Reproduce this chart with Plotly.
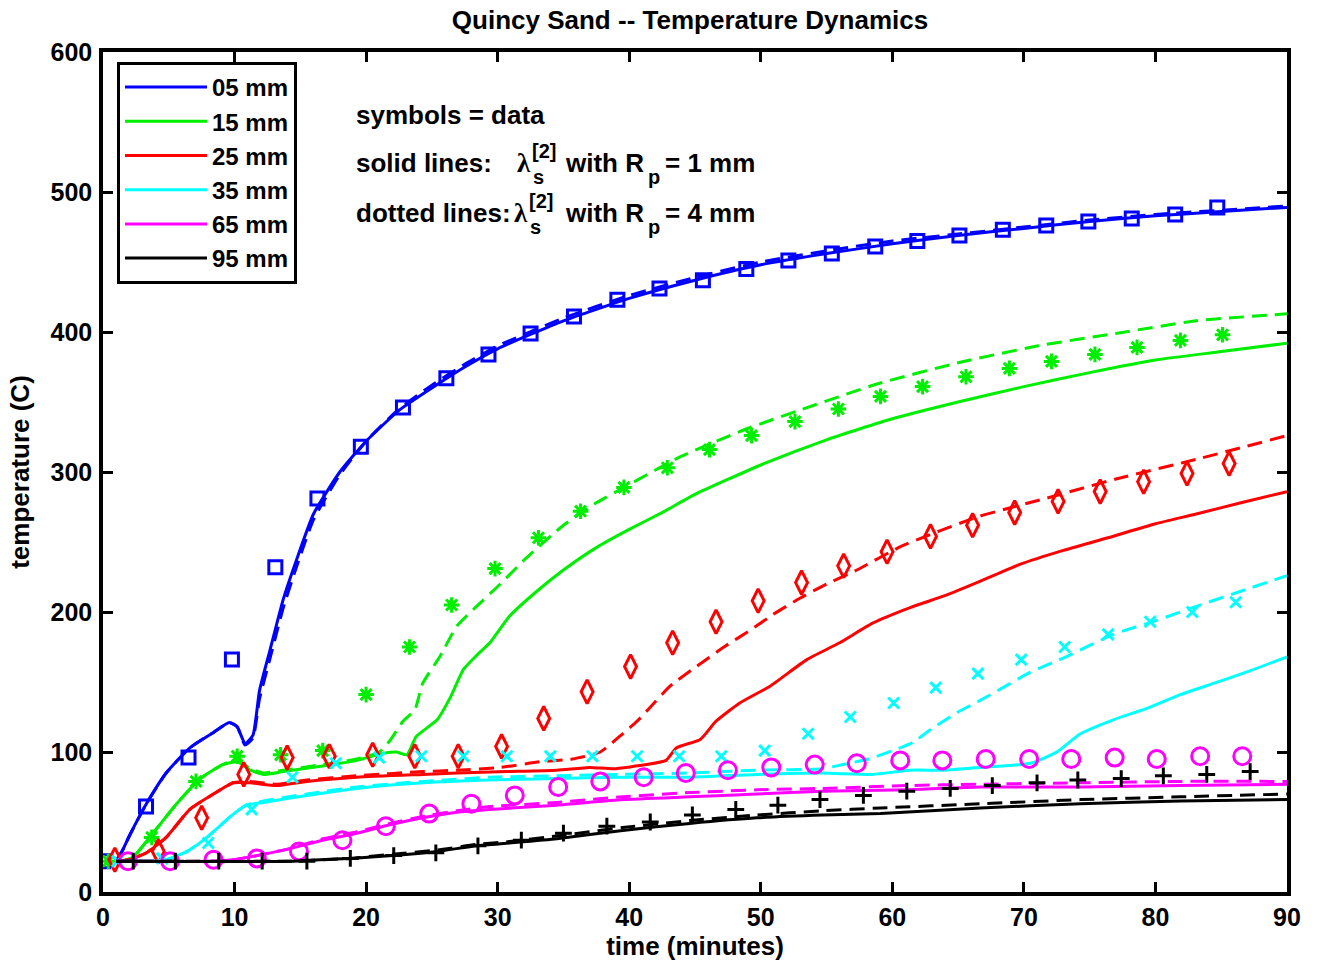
import plotly.graph_objects as go

# ---------------------------------------------------------------------------
# Measured temperatures (symbols)
# ---------------------------------------------------------------------------
t_05 = [0, 3.27, 6.5, 9.8, 13.1, 16.3, 19.6, 22.8, 26.1, 29.3, 32.5, 35.8, 39.1, 42.3,
        45.6, 48.9, 52.1, 55.4, 58.7, 61.9, 65.1, 68.4, 71.7, 74.9, 78.2, 81.5, 84.7]
T_05 = [22, 61, 96, 166, 232, 281, 318, 346, 367, 384, 399, 411, 423, 431,
        437, 445, 451, 456, 461, 465, 469, 473, 476, 479, 481, 484, 489]

t_15 = [0.4, 3.7, 7.07, 10.2, 13.5, 16.7, 20.0, 23.3, 26.5, 29.8, 33.1, 36.3, 39.6, 42.9,
        46.1, 49.3, 52.6, 55.9, 59.1, 62.3, 65.6, 68.9, 72.1, 75.4, 78.6, 81.9, 85.1]
T_15 = [22, 39, 79, 97, 98, 101, 141, 175, 205, 231, 253, 272, 289, 303,
        316, 326, 336, 345, 354, 361, 368, 374, 379, 384, 389, 394, 398]

t_25 = [0.9, 4.2, 7.5, 10.7, 14.0, 17.2, 20.5, 23.7, 27.0, 30.3, 33.5, 36.8, 40.1, 43.3,
        46.6, 49.8, 53.1, 56.3, 59.6, 62.9, 66.1, 69.3, 72.6, 75.8, 79.1, 82.4, 85.6]
T_25 = [23, 29, 53, 84, 96, 97, 98, 97, 97, 104, 124, 143, 161, 178,
        193, 208, 221, 233, 243, 254, 262, 271, 279, 286, 293, 299, 306]

t_35 = [1.1, 4.5, 8.0, 11.3, 14.4, 17.7, 21.0, 24.2, 27.4, 30.7, 34.0, 37.2, 40.6, 43.8,
        47.0, 50.3, 53.6, 56.8, 60.1, 63.3, 66.5, 69.8, 73.1, 76.4, 79.6, 82.8, 86.1]
T_35 = [22, 24, 35, 59, 82, 92, 96, 97, 97, 97, 97, 97, 97, 97,
        97, 101, 113, 125, 135, 146, 156, 166, 175, 184, 193, 200, 207]

t_65 = [1.9, 5.1, 8.4, 11.7, 14.9, 18.2, 21.5, 24.8, 28.0, 31.3, 34.6, 37.8, 41.1, 44.3,
        47.5, 50.8, 54.1, 57.3, 60.6, 63.8, 67.1, 70.4, 73.6, 76.9, 80.1, 83.4, 86.6]
T_65 = [22, 22, 23, 24, 29, 37, 47, 56, 63, 69, 75, 79, 82, 85,
        87, 89, 91, 92, 94, 94, 95, 95, 95, 96, 95, 97, 97]

t_95 = [2.3, 5.5, 8.8, 12.1, 15.5, 18.8, 22.1, 25.3, 28.5, 31.8, 35.0, 38.3, 41.6, 44.8,
        48.1, 51.3, 54.5, 57.8, 61.1, 64.4, 67.6, 71.0, 74.1, 77.4, 80.6, 83.9, 87.2]
T_95 = [22, 22, 22, 22, 22, 24, 26, 28, 33, 37, 42, 47, 50, 55,
        59, 62, 66, 69, 72, 74, 76, 78, 80, 81, 83, 84, 86]

# ---------------------------------------------------------------------------
# Model curves: solid = R_p 1 mm, dashed = R_p 4 mm
# ---------------------------------------------------------------------------
ts_05 = [1.0, 1.5, 2.0, 3.3, 4.8, 6.6, 8.4, 9.6, 10.2, 10.8, 11.4, 11.9, 12.7, 13.7, 14.7,
         16, 18, 20, 22.5, 25, 27.5, 30, 35, 40, 45, 50, 55, 60, 65, 70, 75, 80, 85, 90]
Ts_05 = [22, 30, 40, 63, 85, 103, 114, 121, 118, 106, 112, 144, 173, 209, 237,
         270, 300, 322, 344, 360, 375, 388, 408, 424, 437, 448, 456, 463, 469, 474, 479, 483, 486, 489]
Td_05 = [22, 30, 40, 63, 85, 103, 114, 121, 118, 105, 110, 138, 167, 203, 232,
         266, 298, 322, 345, 362, 377, 390, 410, 426, 439, 450, 458, 465, 470, 475, 480, 484, 487, 490]

ts_15 = [1.0, 1.5, 2.3, 3.8, 5.6, 7.4, 9.1, 10.2, 11.2, 12.2, 13.7, 16.7, 19.3, 21.3, 22.3,
         23.1, 23.8, 25.4, 26.4, 27.4, 28.4, 29.4, 30.9, 33, 35, 37.5, 40, 42.5, 45, 50, 55,
         60, 65, 70, 75, 80, 85, 90]
Ts_15 = [22, 22, 25, 42, 63, 81, 91, 93, 87, 84, 86, 90, 94, 99, 100,
         98, 111, 123, 139, 159, 169, 178, 197, 215, 230, 246, 259, 271, 284, 305, 323,
         338, 350, 361, 371, 380, 386, 392]
td_15 = [1.0, 1.5, 2.3, 3.8, 5.6, 7.4, 9.1, 10.2, 11.2, 12.2, 13.7, 16.7, 19.3, 21.0, 21.8,
         22.8, 23.7, 24.3, 25.6, 26.9, 28.4, 30.2, 32, 35, 37.5, 40, 43.9, 48.7, 52.9, 58.9,
         65, 71, 77, 83.1, 90]
Td_15 = [22, 22, 25, 42, 63, 81, 91, 94, 88, 85, 87, 91, 95, 100, 108,
         122, 130, 149, 168, 190, 204, 220, 237, 262, 278, 291, 311, 330, 344, 363,
         378, 390, 399, 408, 413]

ts_25 = [1.0, 2.0, 3.3, 4.8, 6.6, 8.4, 9.9, 11.2, 13.2, 15.5, 19.3, 24.3, 26.9, 30.7, 34.5,
         37, 38.8, 41.3, 42.8, 43.6, 45.4, 46.6, 48.4, 50.7, 53.5, 56, 58.5, 61.3, 64.1,
         66.7, 69.7, 73, 76.4, 80, 83.1, 86.5, 90]
Ts_25 = [22, 23, 28, 39, 59, 70, 78, 78, 76, 79, 82, 84, 85, 86, 87,
         89, 88, 91, 94, 103, 109, 122, 135, 147, 166, 178, 192, 203, 212,
         222, 234, 244, 253, 263, 270, 278, 286]
td_25 = [1.0, 2.0, 3.3, 4.8, 6.6, 8.4, 9.9, 11.2, 13.2, 15.5, 19.3, 24.3, 26.9, 30.2, 33.2,
         35.7, 37.8, 39.5, 40.6, 41.6, 43.1, 45.1, 47.2, 49.2, 50.9, 53, 54.8, 57.3, 60.7,
         66.5, 71.6, 77, 83.1, 90]
Td_25 = [22, 23, 28, 39, 59, 70, 78, 79, 77, 80, 83, 86, 87, 89, 93,
         95, 100, 113, 122, 132, 147, 161, 175, 187, 198, 210, 219, 230, 247,
         268, 281, 295, 309, 326]

ts_35 = [1.0, 4.0, 4.8, 6.4, 7.9, 9.7, 10.9, 12.2, 15.5, 19.3, 24.3, 29.4, 34.5, 39.5, 44.6,
         49.7, 54.7, 58.5, 61.3, 63.9, 66.7, 70.5, 72.5, 74.3, 76.8, 79.3, 81.9, 84.4, 86.9, 90]
Ts_35 = [22, 22, 23, 29, 39, 54, 62, 64, 69, 74, 78, 80, 81, 82, 82,
         84, 85, 84, 87, 87, 89, 92, 100, 113, 123, 131, 141, 149, 157, 168]
td_35 = [1.0, 4.0, 4.8, 6.4, 7.9, 9.7, 10.9, 12.2, 15.5, 19.3, 24.3, 29.4, 34.5, 39.5, 44.6,
         49.7, 54.7, 56.2, 58.2, 60.6, 61.6, 62.9, 64.9, 66.9, 70.5, 73.2, 76.8, 80.1, 83.1,
         85.9, 90]
Td_35 = [22, 22, 23, 29, 39, 54, 62, 65, 70, 75, 79, 82, 83, 84, 85,
         87, 88, 91, 95, 103, 107, 116, 128, 138, 157, 168, 184, 194, 204,
         213, 226]

ts_65 = [1.0, 8.5, 9.9, 11.7, 14.2, 16.7, 19.3, 21.8, 24.3, 26.9, 29.4, 34.5, 39.5, 44.6,
         49.7, 54.7, 61.1, 66.7, 74.3, 81.9, 90]
Ts_65 = [22, 22, 23, 26, 31, 37, 42, 48, 53, 57, 59, 62, 66, 68,
         70, 72, 73, 75, 75, 76, 77]
Td_65 = [22, 22, 23, 26, 31, 38, 43, 49, 54, 58, 61, 64, 68, 71,
         73, 74, 76, 77, 78, 79, 79]

ts_95 = [1.0, 14.2, 16.5, 18.8, 22, 25.4, 28.4, 30.9, 34.5, 39.5, 44.6, 49.7, 54.7, 59.1,
         66.7, 74.3, 81.9, 90]
Ts_95 = [22, 22, 23, 24, 26, 29, 33, 35, 38, 44, 49, 53, 55, 56, 60, 63, 65, 66]
Td_95 = [22, 22, 23, 24, 27, 30, 34, 36, 40, 46, 51, 55, 58, 60, 63, 66, 68, 70]

depth_names = ["05 mm", "15 mm", "25 mm", "35 mm", "65 mm", "95 mm"]
colors = ["#0000FF", "#00EE00", "#FF0000", "#00FFFF", "#FF00FF", "#000000"]
symbols = ["square-open", "asterisk-open", "diamond-tall-open",
           "x-thin-open", "circle-open", "cross-thin-open"]
sizes = [13, 13, 17, 11, 17, 12]

series = [
    (t_05, T_05, ts_05, Ts_05, ts_05, Td_05),
    (t_15, T_15, ts_15, Ts_15, td_15, Td_15),
    (t_25, T_25, ts_25, Ts_25, td_25, Td_25),
    (t_35, T_35, ts_35, Ts_35, td_35, Td_35),
    (t_65, T_65, ts_65, Ts_65, ts_65, Td_65),
    (t_95, T_95, ts_95, Ts_95, ts_95, Td_95),
]

fig = go.Figure()
for name, col, sym, sz, (tm, Tm, tsol, Tsol, tdsh, Tdsh) in zip(
        depth_names, colors, symbols, sizes, series):
    fig.add_trace(go.Scatter(x=tsol, y=Tsol, mode="lines", name=name,
                             line=dict(color=col, width=3, shape="spline", smoothing=0.5)))
    fig.add_trace(go.Scatter(x=tdsh, y=Tdsh, mode="lines", showlegend=False,
                             line=dict(color=col, width=3, dash="15px,8px",
                                       shape="spline", smoothing=0.5)))
    fig.add_trace(go.Scatter(x=tm, y=Tm, mode="markers", showlegend=False,
                             marker=dict(symbol=sym, size=sz, color=col,
                                         line=dict(color=col, width=3))))

# plot area in pixels
W, H = 1317, 968
L, R, TOP, BOT = 103, 1287, 52, 892


def px(x):
    return (x - L) / (R - L)


def py(y):
    return (BOT - y) / (BOT - TOP)


text_font = dict(family="Liberation Sans, Arial", size=26, color="black", weight="bold")
small_font = dict(family="Liberation Sans, Arial", size=20, color="black", weight="bold")
lam_font = dict(family="Liberation Serif, DejaVu Serif", size=27, color="black")
legend_font = dict(family="Liberation Sans, Arial", size=24, color="black", weight="bold")


def label(x, y, text, font):
    fig.add_annotation(x=px(x), y=py(y), xref="paper", yref="paper", text=text,
                       showarrow=False, xanchor="left", yanchor="middle", font=font,
                       borderpad=0)


label(355, 115, "symbols = data", text_font)
for y0, head, lam_x, tail in [(163, "solid lines:", 516, "= 1 mm"),
                               (213, "dotted lines:", 513, "= 4 mm")]:
    label(355, y0, head, text_font)
    label(lam_x, y0, "λ", lam_font)
    label(lam_x + 15, y0 - 12, "[2]", small_font)
    label(lam_x + 16, y0 + 14, "s", small_font)
    label(564, y0, "with R", text_font)
    label(647, y0 + 14, "p", small_font)
    label(664, y0, tail, text_font)

axis_common = dict(showline=True, linecolor="black", linewidth=3.5, mirror="allticks",
                   ticks="inside", ticklen=10, tickwidth=3, tickcolor="black",
                   showgrid=False, zeroline=False,
                   tickfont=dict(family="Liberation Sans, Arial", size=25,
                                 color="black", weight="bold"))

fig.update_layout(
    width=W, height=H,
    margin=dict(l=L, r=W - R, t=TOP, b=H - BOT, autoexpand=False),
    paper_bgcolor="white", plot_bgcolor="white",
    font=text_font,
    title=dict(text="Quincy Sand -- Temperature Dynamics", xref="container",
               x=690 / W, xanchor="center", y=1 - 20 / H, yanchor="middle", font=text_font),
    xaxis=dict(range=[0, 90], dtick=10, tick0=0, ticklabelstandoff=0,
               title=dict(text="time (minutes)", font=text_font, standoff=4),
               **axis_common),
    yaxis=dict(range=[0, 600], dtick=100, tick0=0, ticklabelstandoff=2,
               title=dict(text="temperature (C)", font=text_font, standoff=14),
               **axis_common),
    legend=dict(x=px(117), y=py(62), xanchor="left", yanchor="top",
                bgcolor="white", bordercolor="black", borderwidth=3,
                font=legend_font, itemwidth=82, tracegroupgap=0),
    showlegend=True,
)

fig.write_html("out.html")
